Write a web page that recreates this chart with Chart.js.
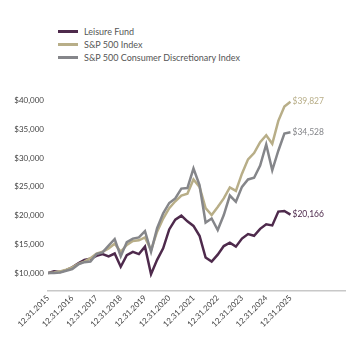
<!DOCTYPE html>
<html>
<head>
<meta charset="utf-8">
<script src="https://cdn.jsdelivr.net/npm/chart.js"></script>
<style>
    html, body { margin: 0; padding: 0; background: #fff; }
    #wrap { position: relative; width: 348px; height: 340px; }
    #legend { position: absolute; left: 58px; top: 25px; font: 9px Lato, sans-serif; color: #555; }
    #legend div { height: 13px; line-height: 13px; white-space: nowrap; }
    #legend span { display: inline-block; width: 20px; height: 3px; vertical-align: middle; margin-right: 6px; margin-top: -2px; }
    canvas { position: absolute; left: 0; top: 0; }
</style>
</head>
<body>
<div id="wrap">
    <div id="legend"></div>
    <canvas id="growthChart" width="348" height="340"></canvas>
</div>
<script>
// Growth of $10,000, quarterly from 12.31.2015 to 12.31.2025
const tickLabels = ['12.31.2015', '12.31.2016', '12.31.2017', '12.31.2018', '12.31.2019', '12.31.2020',
    '12.31.2021', '12.31.2022', '12.31.2023', '12.31.2024', '12.31.2025'];

const seriesNames = ['Leisure Fund', 'S&P 500 Index', 'S&P 500 Consumer Discretionary Index'];

const leisureFund = [10000, 10300, 10200, 10500, 11000, 11700, 12300, 12500, 13000, 13300, 12900,
    13400, 11100, 13100, 13700, 13300, 14600, 9800, 12300, 14300, 17600, 19300, 20000, 19000,
    18200, 16500, 12700, 12000, 13200, 14700, 15300, 14600, 16000, 16800, 16500, 17700, 18500,
    18300, 20700, 20800, 20166];

const sp500 = [10000, 10100, 10300, 10600, 11000, 11600, 12000, 12600, 13400, 13700, 14300,
    15100, 13700, 14900, 15600, 15700, 16200, 14000, 17200, 19500, 21300, 22500, 23500, 23800,
    26300, 25000, 21300, 20100, 21500, 23000, 24900, 24300, 27300, 29800, 30900, 32800, 34000,
    32500, 36500, 39000, 39827];

const consumerDisc = [10000, 10000, 10100, 10400, 10700, 11500, 11900, 12000, 13300, 13600, 14800,
    15900, 12900, 15400, 16000, 16200, 17300, 13700, 17800, 20400, 22200, 23000, 24700, 24800,
    28200, 25300, 18800, 19500, 17500, 20100, 23500, 22400, 25000, 26300, 26600, 28700, 32400,
    27900, 31300, 34300, 34528];

const yTicks = [10000, 15000, 20000, 25000, 30000, 35000, 40000];

const seriesColors = ['#4e2a4c', '#b8ae88', '#85868a'];

const fontFamily = 'Lato, sans-serif';

function toPoints(values) {
    return values.map((v, i) => ({ x: i, y: v }));
}

const allSeries = [leisureFund, sp500, consumerDisc];

// HTML legend, stacked vertically like the original
const legendEl = document.getElementById('legend');
seriesNames.forEach((name, idx) => {
    const row = document.createElement('div');
    row.innerHTML = `<span style="background:${seriesColors[idx]}"></span>`;
    row.appendChild(document.createTextNode(name));
    legendEl.appendChild(row);
});

// Writes the final value at the end of each line
const endLabels = {
    id: 'endLabels',
    afterDatasetsDraw(chart) {
        const ctx = chart.ctx;
        ctx.save();
        ctx.font = '8.5px ' + fontFamily;
        ctx.textBaseline = 'middle';
        ctx.textAlign = 'left';
        chart.data.datasets.forEach((ds, i) => {
            const meta = chart.getDatasetMeta(i);
            const last = meta.data[meta.data.length - 1];
            const value = ds.data[ds.data.length - 1].y;
            ctx.fillStyle = ds.borderColor;
            ctx.fillText('$' + value.toLocaleString('en-US'), last.x + 2, last.y);
        });
        ctx.restore();
    }
};

new Chart(document.getElementById('growthChart'), {
    type: 'line',
    data: {
        datasets: allSeries.map((values, idx) => ({
            label: seriesNames[idx],
            data: toPoints(values),
            borderColor: seriesColors[idx],
            backgroundColor: seriesColors[idx],
            borderWidth: 2.5,
            pointRadius: 0,
            tension: 0,
            order: 3 - idx
        })).reverse()
    },
    options: {
        responsive: false,
        animation: false,
        layout: {
            padding: { top: 95, left: 14, right: 3, bottom: 8 }
        },
        plugins: {
            legend: { display: false },
            tooltip: { enabled: false }
        },
        scales: {
            x: {
                type: 'linear',
                min: 0,
                max: 49,
                grid: { display: false, drawTicks: false },
                border: { display: true, color: '#c8c8c8', width: 1.5 },
                afterBuildTicks: scale => {
                    scale.ticks = tickLabels.map((t, i) => ({ value: i * 4 }));
                },
                afterFit: scale => {
                    scale.paddingLeft = 0;
                },
                ticks: {
                    minRotation: 45,
                    maxRotation: 45,
                    padding: 3,
                    color: '#444',
                    font: { family: fontFamily, size: 8 },
                    callback: v => tickLabels[v / 4]
                }
            },
            y: {
                min: 7000,
                max: 41000,
                grid: { display: false, drawTicks: false },
                border: { display: false },
                afterBuildTicks: scale => {
                    scale.ticks = yTicks.map(v => ({ value: v }));
                },
                afterFit: scale => {
                    scale.width = 34;
                },
                ticks: {
                    padding: 4,
                    color: '#444',
                    font: { family: fontFamily, size: 8 },
                    callback: v => '$' + v.toLocaleString('en-US')
                }
            }
        }
    },
    plugins: [endLabels]
});
</script>
</body>
</html>
